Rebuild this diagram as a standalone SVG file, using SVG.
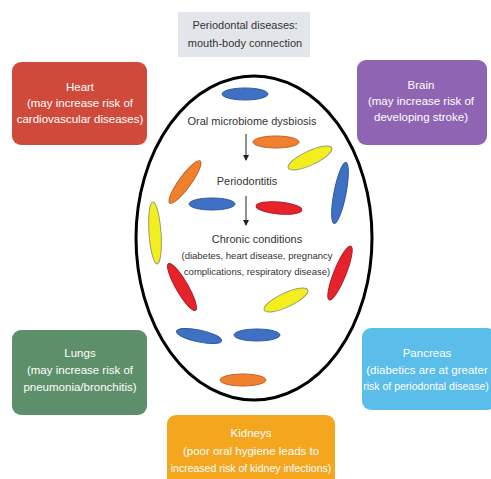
<svg xmlns="http://www.w3.org/2000/svg" width="491" height="479" viewBox="0 0 491 479">
<defs>
<style>
.box text{font-family:"Liberation Sans",Arial,sans-serif;font-size:11.5px;fill:#fff;text-anchor:middle}
.in{font-family:"Liberation Sans",Arial,sans-serif;fill:#333;text-anchor:middle}
.b{fill:#3e70c4;stroke:#2f5a9e;stroke-width:1}
.o{fill:#f0802e;stroke:#c0602a;stroke-width:1}
.y{fill:#f3ee1e;stroke:#9a9a70;stroke-width:1}
.r{fill:#e8222a;stroke:#a8202a;stroke-width:1}
</style>
<marker id="ah" markerWidth="6" markerHeight="6" refX="5" refY="3" orient="auto" markerUnits="userSpaceOnUse">
<path d="M0,0 L6,3 L0,6 z" fill="#222"/>
</marker>
</defs>
<rect width="491" height="479" fill="#fff"/>

<g id="title">
<rect x="178" y="12" width="132" height="45" fill="#e2e6ea"/>
<text class="in" x="245" y="29" font-size="11">Periodontal diseases:</text>
<text class="in" x="245" y="47" font-size="11">mouth-body connection</text>
</g>

<g id="heart" class="box">
<rect x="12" y="62" width="135" height="83" rx="9" fill="#d04a3c"/>
<text x="80" y="91">Heart</text>
<text x="80" y="107">(may increase risk of</text>
<text x="80" y="123">cardiovascular diseases)</text>
</g>

<g id="brain" class="box">
<rect x="357" y="60" width="130" height="85" rx="9" fill="#8f65b3"/>
<text x="421" y="89">Brain</text>
<text x="421" y="105">(may increase risk of</text>
<text x="421" y="121">developing stroke)</text>
</g>

<g id="lungs" class="box">
<rect x="12" y="330" width="135" height="85" rx="9" fill="#5e8f6b"/>
<text x="80" y="357">Lungs</text>
<text x="80" y="374">(may increase risk of</text>
<text x="80" y="391">pneumonia/bronchitis)</text>
</g>

<g id="pancreas" class="box">
<rect x="362" y="328" width="134" height="82" rx="9" fill="#5bbde9"/>
<text x="427" y="357">Pancreas</text>
<text x="427" y="374">(diabetics are at greater</text>
<text x="426" y="390" style="font-size:10.5px">risk of periodontal disease)</text>
</g>

<g id="kidneys" class="box">
<rect x="167" y="415" width="168" height="75" rx="9" fill="#f4a61f"/>
<text x="251" y="437">Kidneys</text>
<text x="251" y="455">(poor oral hygiene leads to</text>
<text x="251" y="472" style="font-size:10.5px">increased risk of kidney infections)</text>
</g>

<g id="mouth">
<ellipse cx="254" cy="238" rx="118" ry="162" fill="none" stroke="#000" stroke-width="3"/>
<ellipse class="b" cx="245" cy="94" rx="23" ry="6"/>
<ellipse class="o" cx="276" cy="142" rx="23" ry="6"/>
<ellipse class="y" cx="310" cy="158" rx="24" ry="7" transform="rotate(-25 310 158)"/>
<ellipse class="b" cx="340" cy="193" rx="31" ry="6" transform="rotate(-79 340 193)"/>
<ellipse class="o" cx="185" cy="182" rx="26" ry="6" transform="rotate(-54 185 182)"/>
<ellipse class="b" cx="212" cy="204" rx="23" ry="6"/>
<ellipse class="r" cx="279" cy="208" rx="23" ry="6" transform="rotate(5 279 208)"/>
<ellipse class="y" cx="155" cy="233" rx="31" ry="6" transform="rotate(86 155 233)"/>
<ellipse class="r" cx="182" cy="287" rx="27" ry="6" transform="rotate(60 182 287)"/>
<ellipse class="r" cx="340" cy="273" rx="29" ry="6" transform="rotate(-68 340 273)"/>
<ellipse class="y" cx="286" cy="300" rx="24" ry="7" transform="rotate(-25 286 300)"/>
<ellipse class="b" cx="199" cy="336" rx="23" ry="6" transform="rotate(12 199 336)"/>
<ellipse class="b" cx="257" cy="335" rx="23" ry="6"/>
<ellipse class="o" cx="243" cy="380" rx="23" ry="6"/>
<text class="in" x="252" y="125" font-size="11">Oral microbiome dysbiosis</text>
<text class="in" x="247" y="185" font-size="11">Periodontitis</text>
<text class="in" x="257" y="243" font-size="11">Chronic conditions</text>
<text class="in" x="257" y="259" font-size="9.5">(diabetes, heart disease, pregnancy</text>
<text class="in" x="257" y="275" font-size="9.5">complications, respiratory disease)</text>
</g>

<g id="connectors">
<line x1="246" y1="134" x2="246" y2="160" stroke="#222" stroke-width="1" marker-end="url(#ah)"/>
<line x1="246" y1="196" x2="246" y2="225" stroke="#222" stroke-width="1" marker-end="url(#ah)"/>
</g>
</svg>
